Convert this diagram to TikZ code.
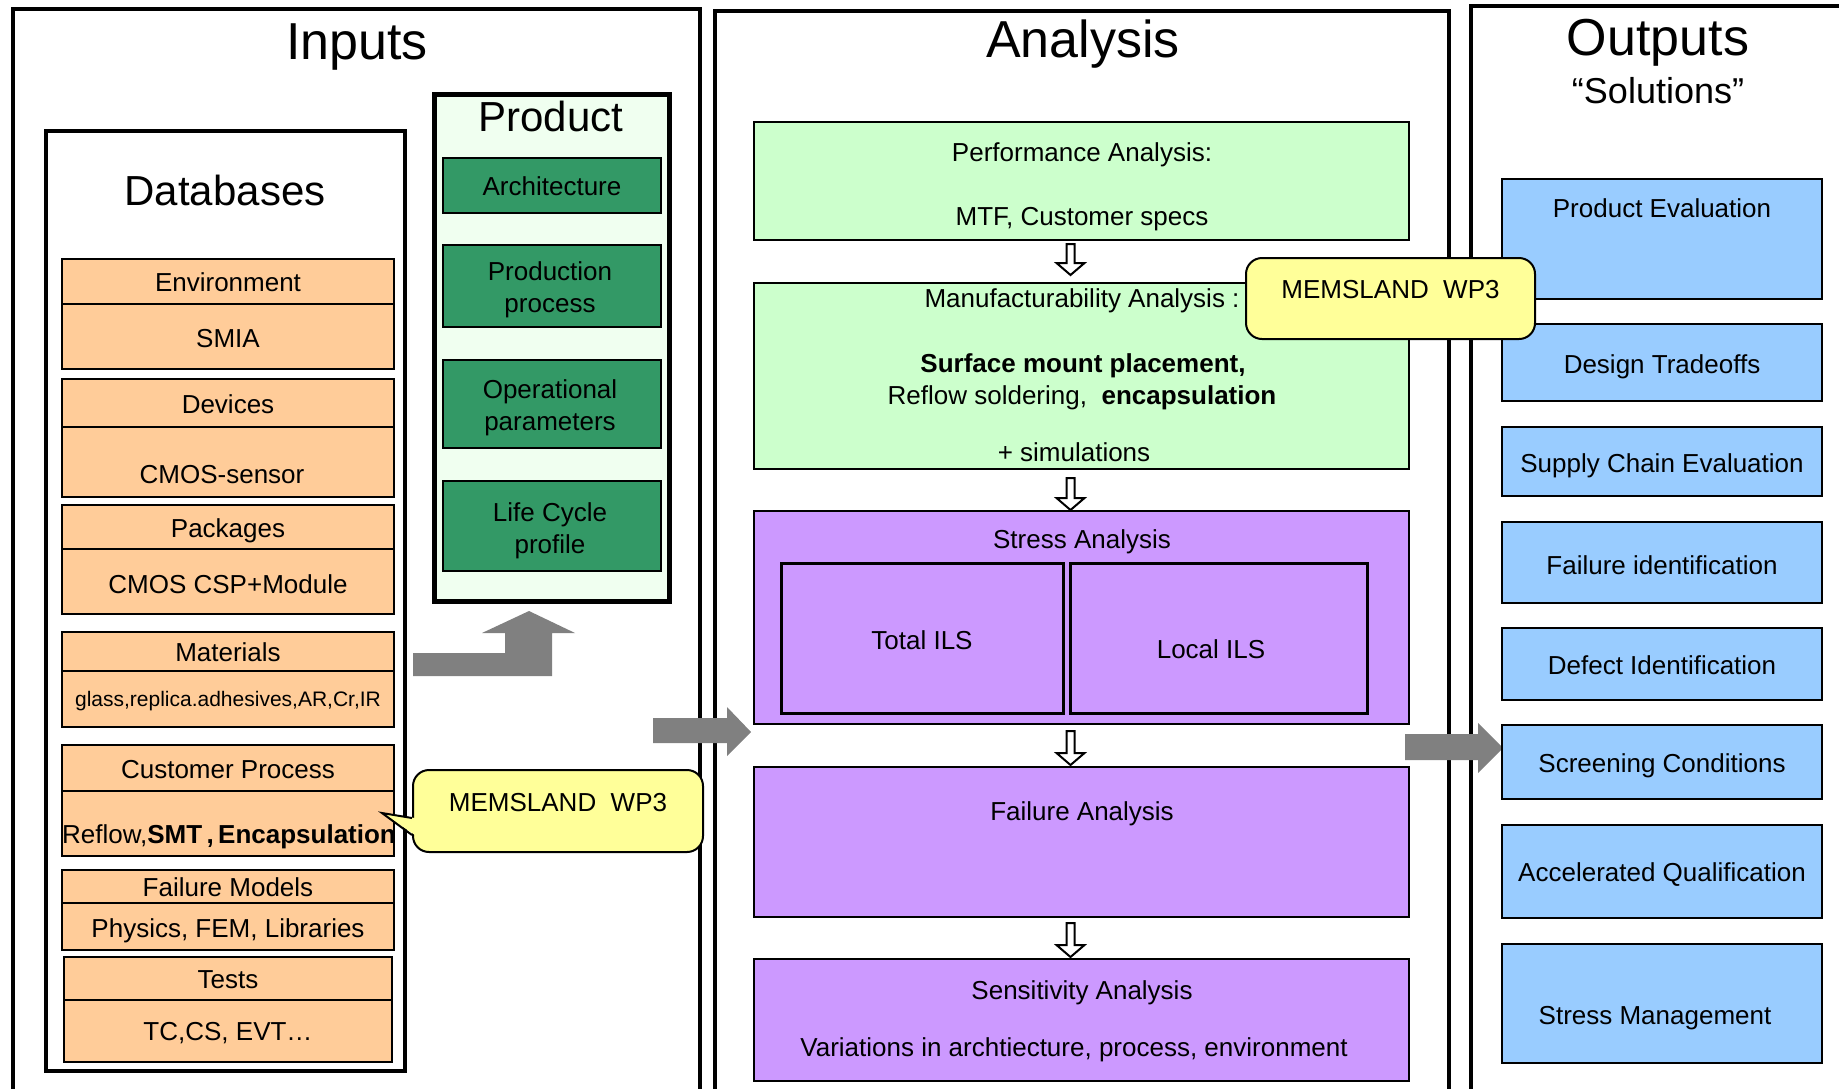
\documentclass[tikz,border=0pt]{standalone}
\usepackage{fontspec}
\setmainfont{Liberation Sans}
\usetikzlibrary{calc}
\definecolor{orng}{HTML}{FFCC99}
\definecolor{dgrn}{HTML}{339966}
\definecolor{pgrn}{HTML}{F0FFF0}
\definecolor{lgrn}{HTML}{CCFFCC}
\definecolor{purp}{HTML}{CC99FF}
\definecolor{lblu}{HTML}{99CCFF}
\definecolor{ylw}{HTML}{FFFF99}
\definecolor{gry}{HTML}{808080}
\newcommand{\bx}[6][]{\node[box,#1,minimum width={(#5-#3)*0.5pt},minimum height={(#6-#4)*0.5pt}] (#2) at ({(#3+#5)/2},{(#4+#6)/2}) {};}
\newcommand{\hollowarrow}[4]{\draw[harrow] let \p1=($(#1.south)+(-11,#3)$), \p2=($(#2.north)+(-11,#4)$) in (\x1-2pt,\y1) -- (\x1+2pt,\y1) -- (\x1+2pt,\y2+6pt) -- (\x1+7pt,\y2+6pt) -- (\x1,\y2) -- (\x1-7pt,\y2+6pt) -- (\x1-2pt,\y2+6pt) -- cycle;}
\begin{document}
\begin{tikzpicture}[x=0.5pt,y=-0.5pt,
  box/.style={draw, inner sep=0pt, line width=1pt},
  panel/.style={line width=2.3pt},
  txt/.style={anchor=base, inner sep=0pt, font=\fontsize{13}{16}\selectfont},
  mtxt/.style={anchor=center, inner sep=0pt, align=center, font=\fontsize{13}{16}\selectfont},
  ttl/.style={anchor=base, inner sep=0pt, font=\fontsize{26}{30}\selectfont},
  sttl/.style={anchor=base, inner sep=0pt, font=\fontsize{21}{24}\selectfont},
  callout/.style={draw, fill=ylw, rounded corners=8pt, line width=1pt, inner sep=0pt, text height=9.5pt, text depth=9.5pt, font=\fontsize{13}{16}\selectfont},
  harrow/.style={draw, fill=white, line width=1pt, line join=miter}]
\useasboundingbox (0,0) rectangle (1839,1088);
\clip (0,0) rectangle (1839,1088);
\fill[white] (0,0) rectangle (1839,1088);
% panels
\bx[panel]{inputs}{13}{9}{700}{1130}
\bx[panel]{analysis}{715}{11}{1449}{1130}
\bx[panel]{outputs}{1471}{6}{1950}{1130}
\node[ttl] (tIn) at (357,59) {Inputs};
\node[ttl] (tAn) at (1083,57) {Analysis};
\node[ttl] (tOut) at (1658,55) {Outputs};
\node[anchor=base, inner sep=0pt, font=\fontsize{18}{20}\selectfont] (tSol) at (1658,103) {“Solutions”};
% databases
\bx[line width=1.8pt, fill=white]{db}{46}{131}{405}{1071}
\node[sttl] (tDb) at (225,205) {Databases};
\bx[fill=orng]{envh}{62}{259}{394}{304}
\bx[fill=orng]{envb}{62}{304}{394}{369}
\bx[fill=orng]{devh}{62}{379}{394}{427}
\bx[fill=orng]{devb}{62}{427}{394}{497}
\bx[fill=orng]{pkgh}{62}{505}{394}{549}
\bx[fill=orng]{pkgb}{62}{549}{394}{614}
\bx[fill=orng]{math}{62}{632}{394}{671}
\bx[fill=orng]{matb}{62}{671}{394}{727}
\bx[fill=orng]{cph}{62}{745}{394}{791}
\bx[fill=orng]{cpb}{62}{791}{394}{856}
\bx[fill=orng]{fmh}{62}{870}{394}{903}
\bx[fill=orng]{fmb}{62}{903}{394}{950}
\bx[fill=orng]{tsh}{64}{957}{392}{1000}
\bx[fill=orng]{tsb}{64}{1000}{392}{1062}
\node[txt] (tEnv) at (228,291) {Environment};
\node[txt] (tSmia) at (228,347) {SMIA};
\node[txt] (tDev) at (228,413) {Devices};
\node[txt] (tCmos) at (222,483) {CMOS-sensor};
\node[txt] (tPkg) at (228,537) {Packages};
\node[txt] (tCsp) at (228,593) {CMOS CSP+Module};
\node[txt] (tMat) at (228,661) {Materials};
\node[txt, font=\fontsize{10.5}{12}\selectfont] (tGlass) at (228,706) {glass,replica.adhesives,AR,Cr,IR};
\node[txt] (tCp) at (228,778) {Customer Process};
\node[txt] (tRefl) at (229,843) {Reflow,\textbf{SMT\,,\,Encapsulation}};
\node[txt] (tFm) at (228,896) {Failure Models};
\node[txt] (tPhys) at (228,937) {Physics, FEM, Libraries};
\node[txt] (tTests) at (228,988) {Tests};
\node[txt] (tTc) at (228,1040) {TC,CS, EVT…};
% product
\bx[line width=2.5pt, fill=pgrn]{prod}{434}{94}{669}{601}
\node[sttl] (tProd) at (551,131) {Product};
\bx[fill=dgrn]{arch}{443}{158}{661}{213}
\bx[fill=dgrn]{pproc}{443}{245}{661}{327}
\bx[fill=dgrn]{opar}{443}{360}{661}{448}
\bx[fill=dgrn]{lcp}{443}{481}{661}{571}
\node[txt] (tArch) at (552,195) {Architecture};
\node[mtxt] (tPp) at (550,290) {Production\\process};
\node[mtxt] (tOp) at (550,408) {Operational\\parameters};
\node[mtxt] (tLc) at (550,531) {Life Cycle\\profile};
% bent arrow
\fill[gry] (413,653) -- (505,653) -- (505,633) -- (482,633) -- (529,611) -- (575,633) -- (552,633) -- (552,676) -- (413,676) -- cycle;
% analysis
\bx[fill=lgrn]{perf}{754}{122}{1409}{240}
\bx[fill=lgrn]{manuf}{754}{283}{1409}{469}
\bx[fill=purp]{stress}{754}{511}{1409}{724}
\bx[fill=purp, line width=1.5pt]{tils}{781}{563}{1063}{713}
\bx[fill=purp, line width=1.5pt]{lils}{1070}{563}{1367}{713}
\bx[fill=purp]{fail}{754}{767}{1409}{917}
\bx[fill=purp]{sens}{754}{959}{1409}{1081}
\node[txt] (tPerf) at (1082,161) {Performance Analysis:};
\node[txt] (tMtf) at (1082,225) {MTF, Customer specs};
\node[txt] (tMan) at (1082,307) {Manufacturability Analysis :};
\node[txt] (tSurf) at (1083,372) {\textbf{Surface mount placement,}};
\node[txt] (tRs) at (1082,404) {Reflow soldering,\ \ \textbf{encapsulation}};
\node[txt] (tSim) at (1074,461) {+ simulations};
\node[txt] (tStr) at (1082,548) {Stress Analysis};
\node[txt] (tTot) at (922,649) {Total ILS};
\node[txt] (tLoc) at (1211,658) {Local ILS};
\node[txt] (tFail) at (1082,820) {Failure Analysis};
\node[txt] (tSens) at (1082,999) {Sensitivity Analysis};
\node[txt] (tVar) at (1074,1056) {Variations in archtiecture, process, environment};
\hollowarrow{perf}{manuf}{3}{-7}
\hollowarrow{manuf}{stress}{8}{0}
\hollowarrow{stress}{fail}{6}{-1}
\hollowarrow{fail}{sens}{5}{-1}
% big arrows
\fill[gry] (653,718) -- (727,718) -- (727,707) -- (751,732) -- (727,756) -- (727,743) -- (653,743) -- cycle;
\fill[gry] (1405,734) -- (1478,734) -- (1478,723) -- (1503,748) -- (1478,773) -- (1478,760) -- (1405,760) -- cycle;
% outputs
\bx[fill=lblu]{pe}{1502}{179}{1822}{299}
\bx[fill=lblu]{dt}{1502}{324}{1822}{401}
\bx[fill=lblu]{sc}{1502}{427}{1822}{496}
\bx[fill=lblu]{fi}{1502}{522}{1822}{603}
\bx[fill=lblu]{di}{1502}{628}{1822}{700}
\bx[fill=lblu]{scr}{1502}{725}{1822}{799}
\bx[fill=lblu]{aq}{1502}{825}{1822}{918}
\bx[fill=lblu]{sm}{1502}{944}{1822}{1063}
\node[txt] (tPe) at (1662,217) {Product Evaluation};
\node[txt] (tDt) at (1662,373) {Design Tradeoffs};
\node[txt] (tSc) at (1662,472) {Supply Chain Evaluation};
\node[txt] (tFi) at (1662,574) {Failure identification};
\node[txt] (tDi) at (1662,674) {Defect Identification};
\node[txt] (tScr) at (1662,772) {Screening Conditions};
\node[txt] (tAq) at (1662,881) {Accelerated Qualification};
\node[txt] (tSm) at (1655,1024) {Stress Management};
% callouts
\node[callout, minimum width=145pt, minimum height=41pt] (memL) at (558,811) {MEMSLAND\ \ WP3};
\fill[ylw] ($(memL.west)+(-30,2)$) -- ($(memL.west)+(3,7)$) -- ($(memL.west)+(3,24)$) -- cycle;
\draw[line width=1pt, line join=miter] ($(memL.west)+(0,7)$) -- ($(memL.west)+(-30,2)$) -- ($(memL.west)+(0,24)$);
\node[callout, minimum width=144.5pt, minimum height=40.5pt] (memR) at (1390.5,298.5) {MEMSLAND\ \ WP3};
\end{tikzpicture}
\end{document}
